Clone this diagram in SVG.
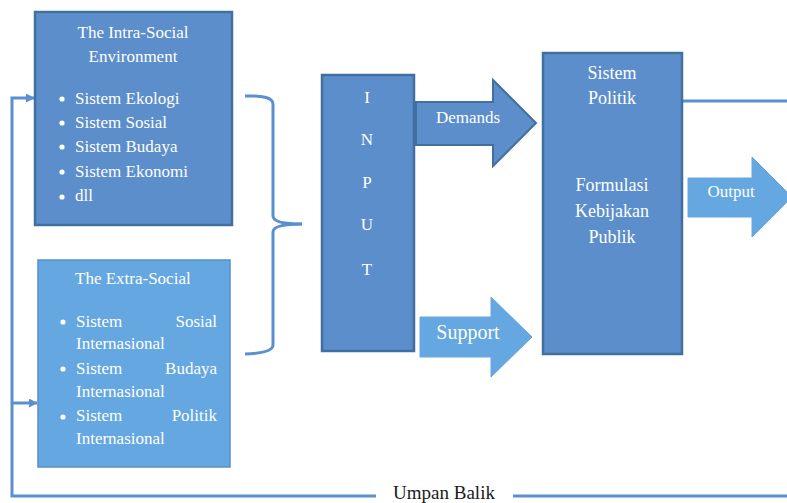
<svg xmlns="http://www.w3.org/2000/svg" width="787" height="503" viewBox="0 0 787 503">
  <style>
    .dark { fill: #5b8ecb; stroke: #41709f; stroke-width: 2.5; }
    .light { fill: #65a7e1; stroke: #5a8fc6; stroke-width: 1.5; }
    .arrow-dark { fill: #5b8ecb; stroke: #41709f; stroke-width: 2; }
    .arrow-light { fill: #65a7e1; stroke: #6aa6dc; stroke-width: 1; }
    .wire { fill: none; stroke: #5b8fcf; stroke-width: 3; }
    text { font-family: "Liberation Serif", "Times New Roman", serif; fill: #ffffff; font-size: 17px; }
    .c { text-anchor: middle; }
    .e { text-anchor: end; }
    .dark-text { fill: #1a1a1a; font-size: 19px; }
    .dot { fill: #ffffff; }
  </style>
  <defs>
    <marker id="head" viewBox="0 0 10 10" refX="9" refY="5" markerWidth="3" markerHeight="3" orient="auto" markerUnits="strokeWidth">
      <path d="M0,0 L10,5 L0,10 z" fill="#5b8fcf"/>
    </marker>
  </defs>

  <!-- feedback loop, brace and system output line -->
  <g id="connectors">
    <path class="wire" d="M787,496 H513"/>
    <path class="wire" d="M376,496 H12 V98 H34" marker-end="url(#head)"/>
    <path class="wire" d="M12,403 H37" marker-end="url(#head)"/>
    <path class="wire" d="M245,96 Q273,95 273,104 V216 Q273,224 302,224"/>
    <path class="wire" d="M302,224 Q273,224 273,232 V345 Q273,353 245,354"/>
    <path class="wire" d="M682,101 H787"/>
    <text class="c dark-text" x="444" y="499">Umpan Balik</text>
  </g>

  <g id="intra-social">
    <rect class="dark" x="35" y="12" width="197" height="213"/>
    <text class="c" x="133" y="38">The Intra-Social</text>
    <text class="c" x="133" y="62">Environment</text>
    <circle class="dot" cx="62" cy="99" r="2.6"/>
    <circle class="dot" cx="62" cy="123" r="2.6"/>
    <circle class="dot" cx="62" cy="147" r="2.6"/>
    <circle class="dot" cx="62" cy="172" r="2.6"/>
    <circle class="dot" cx="62" cy="197" r="2.6"/>
    <text x="75" y="104">Sistem Ekologi</text>
    <text x="75" y="128">Sistem Sosial</text>
    <text x="75" y="152">Sistem Budaya</text>
    <text x="75" y="177">Sistem Ekonomi</text>
    <text x="75" y="201">dll</text>
  </g>

  <g id="extra-social">
    <rect class="light" x="38" y="260" width="192" height="207"/>
    <text x="75" y="284">The Extra-Social</text>
    <circle class="dot" cx="63" cy="322" r="2.6"/>
    <circle class="dot" cx="63" cy="369" r="2.6"/>
    <circle class="dot" cx="63" cy="417" r="2.6"/>
    <text x="76" y="327">Sistem</text>
    <text class="e" x="217" y="327">Sosial</text>
    <text x="76" y="349">Internasional</text>
    <text x="76" y="374">Sistem</text>
    <text class="e" x="217" y="374">Budaya</text>
    <text x="76" y="397">Internasional</text>
    <text x="76" y="421">Sistem</text>
    <text class="e" x="217" y="421">Politik</text>
    <text x="76" y="444">Internasional</text>
  </g>

  <g id="input">
    <rect class="dark" x="322" y="75" width="92" height="276"/>
    <text class="c" x="367" y="103">I</text>
    <text class="c" x="367" y="145">N</text>
    <text class="c" x="367" y="188">P</text>
    <text class="c" x="367" y="230">U</text>
    <text class="c" x="367" y="275">T</text>
  </g>

  <g id="demands">
    <path class="arrow-dark" d="M416,102 H493 V80 L536,123 L493,166 V145 H416 Z"/>
    <text class="c" x="468" y="123">Demands</text>
  </g>

  <g id="support">
    <path class="arrow-light" d="M420,317 H491 V297 L532,337 L491,377 V357 H420 Z"/>
    <text class="c" x="468" y="339" style="font-size:20px">Support</text>
  </g>

  <g id="sistem-politik">
    <rect class="dark" x="543" y="53" width="139" height="301"/>
    <text class="c" x="612" y="79" style="font-size:18px">Sistem</text>
    <text class="c" x="612" y="104" style="font-size:18px">Politik</text>
    <text class="c" x="612" y="191" style="font-size:18px">Formulasi</text>
    <text class="c" x="612" y="217" style="font-size:18px">Kebijakan</text>
    <text class="c" x="612" y="243" style="font-size:18px">Publik</text>
  </g>

  <g id="output">
    <path class="arrow-light" d="M688,178 H752 V157 L792,197 L752,237 V217 H688 Z"/>
    <text class="c" x="731" y="197">Output</text>
  </g>
</svg>
